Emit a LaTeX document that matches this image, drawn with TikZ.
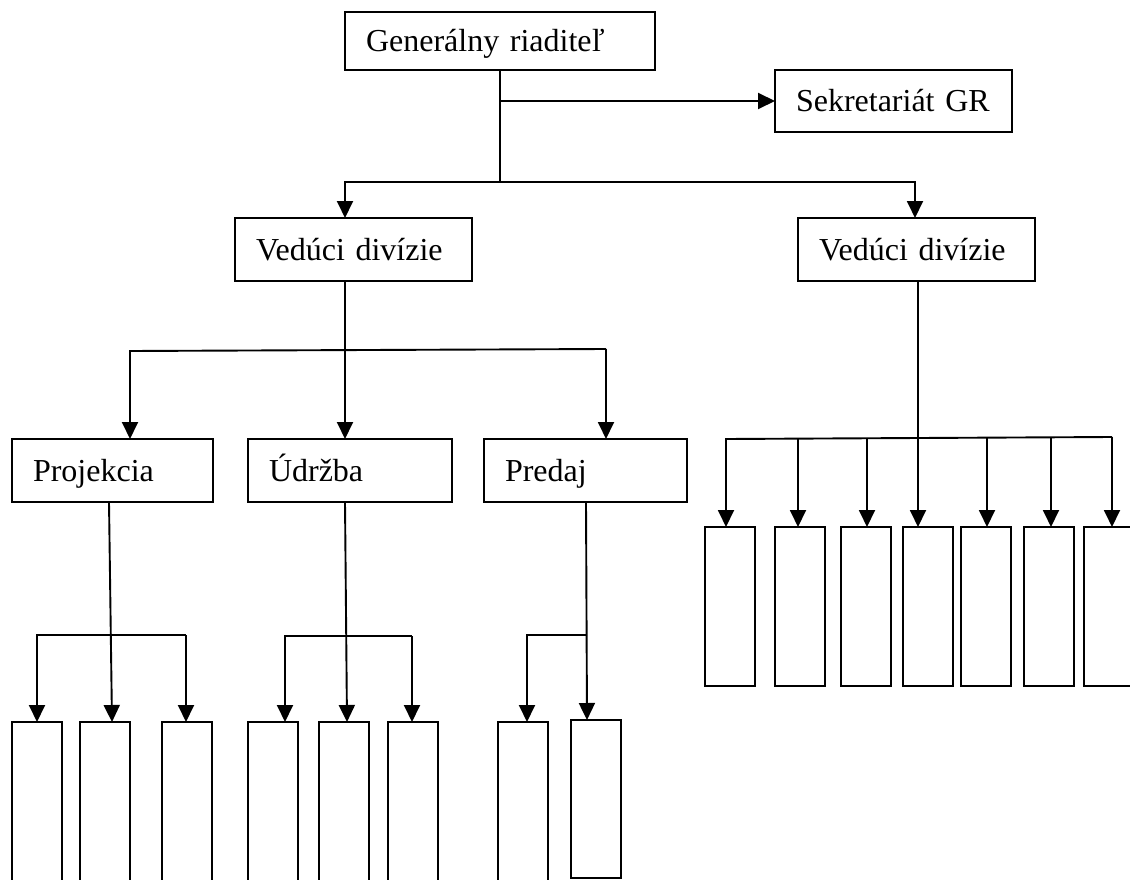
\documentclass[tikz,border=0pt]{standalone}
\usepackage{fontspec}
\setmainfont[WordSpace=0.8]{Liberation Serif}
\usetikzlibrary{arrows.meta}
\begin{document}
\begin{tikzpicture}[x=1pt,y=-1pt,
  line width=1.9pt,
  arr/.style={-{Triangle[width=16pt,length=17pt]}},
  box/.style={draw, anchor=north west, inner sep=0pt, outer sep=0pt, fill=white},
  titled/.style={box, font=\fontsize{32}{38}\selectfont, align=left,
    inner xsep=21pt, text height=21pt, text depth=0pt},
  slot/.style={box, minimum width=50pt}
]
\useasboundingbox[fill=white] (0,0) rectangle (1130,880);

% management
\node[titled, text width=268pt, minimum height=58pt] (gen) at (345,12) {Generálny riaditeľ};
\node[titled, text width=195pt, minimum height=62pt] (sek) at (775,70) {Sekretariát GR};
\node[titled, text width=195pt, minimum height=63pt] (vl) at (235,218) {Vedúci divízie};
\node[titled, text width=195pt, minimum height=63pt] (vr) at (798,218) {Vedúci divízie};

% departments
\node[titled, text width=159pt, minimum height=63pt] (proj) at (12,439) {Projekcia};
\node[titled, text width=162pt, minimum height=63pt] (udr) at (248,439) {Údržba};
\node[titled, text width=161pt, minimum height=63pt] (pred) at (484,439) {Predaj};

% empty units under the departments
\node[slot, minimum height=170pt] (p1) at (12,722) {};
\node[slot, minimum height=170pt] (p2) at (80,722) {};
\node[slot, minimum height=170pt] (p3) at (162,722) {};
\node[slot, minimum height=170pt] (u1) at (248,722) {};
\node[slot, minimum height=170pt] (u2) at (319,722) {};
\node[slot, minimum height=170pt] (u3) at (388,722) {};
\node[slot, minimum height=170pt] (d1) at (498,722) {};
\node[slot, minimum height=158pt] (d2) at (571,720) {};

% empty units of the second division
\node[slot, minimum height=159pt] (r1) at (705,527) {};
\node[slot, minimum height=159pt] (r2) at (775,527) {};
\node[slot, minimum height=159pt] (r3) at (841,527) {};
\node[slot, minimum height=159pt] (r4) at (903,527) {};
\node[slot, minimum height=159pt] (r5) at (961,527) {};
\node[slot, minimum height=159pt] (r6) at (1024,527) {};
\node[slot, minimum height=159pt] (r7) at (1084,527) {};

% bus junctions
\coordinate (yA) at (0,182);
\coordinate (aL) at (345,182);
\coordinate (aR) at (915,182);
\coordinate (bL) at (130,351);
\coordinate (bR) at (606,349);
\coordinate (rT) at (918,438);
\coordinate (c1) at (726,439);
\coordinate (c2) at (798,438);
\coordinate (c3) at (867,438);
\coordinate (c5) at (987,438);
\coordinate (c6) at (1051,438);
\coordinate (c7) at (1112,437);
\coordinate (pc1) at (37,635);
\coordinate (pc2) at (112,635);
\coordinate (pc3) at (186,635);
\coordinate (uc1) at (285,636);
\coordinate (uc2) at (347,636);
\coordinate (uc3) at (412,636);
\coordinate (dc1) at (527,635);
\coordinate (dc2) at (587,635);

% top level
\draw (gen.south) -- (gen.south |- yA);
\draw[arr] (gen.south |- sek.west) -- (sek.west);
\draw[arr] (gen.south |- yA) -- (aL) -- (aL |- vl.north);
\draw[arr] (gen.south |- yA) -- (aR) -- (aR |- vr.north);

% first division
\draw[arr] (vl.south -| aL) -- (aL |- udr.north);
\draw[arr] (bR) -- (bL) -- (bL |- proj.north);
\draw[arr] (bR) -- (bR |- pred.north);

% second division
\draw[arr] (vr.south -| rT) -- (rT |- r4.north);
\draw[arr] (c7) -- (c1) -- (c1 |- r1.north);
\draw[arr] (c7) -- (c7 |- r7.north);
\draw[arr] (c2) -- (c2 |- r2.north);
\draw[arr] (c3) -- (c3 |- r3.north);
\draw[arr] (c5) -- (c5 |- r5.north);
\draw[arr] (c6) -- (c6 |- r6.north);

% Projekcia
\draw[arr] ([xshift=-3.5pt]proj.south) -- (pc2 |- p2.north);
\draw[arr] (pc3) -- (pc1) -- (pc1 |- p1.north);
\draw[arr] (pc3) -- (pc3 |- p3.north);

% Údržba
\draw[arr] ([xshift=-5pt]udr.south) -- (uc2 |- u2.north);
\draw[arr] (uc3) -- (uc1) -- (uc1 |- u1.north);
\draw[arr] (uc3) -- (uc3 |- u3.north);

% Predaj
\draw[arr] ([xshift=0.5pt]pred.south) -- (dc2 |- d2.north);
\draw[arr] (dc2) -- (dc1) -- (dc1 |- d1.north);
\end{tikzpicture}
\end{document}
